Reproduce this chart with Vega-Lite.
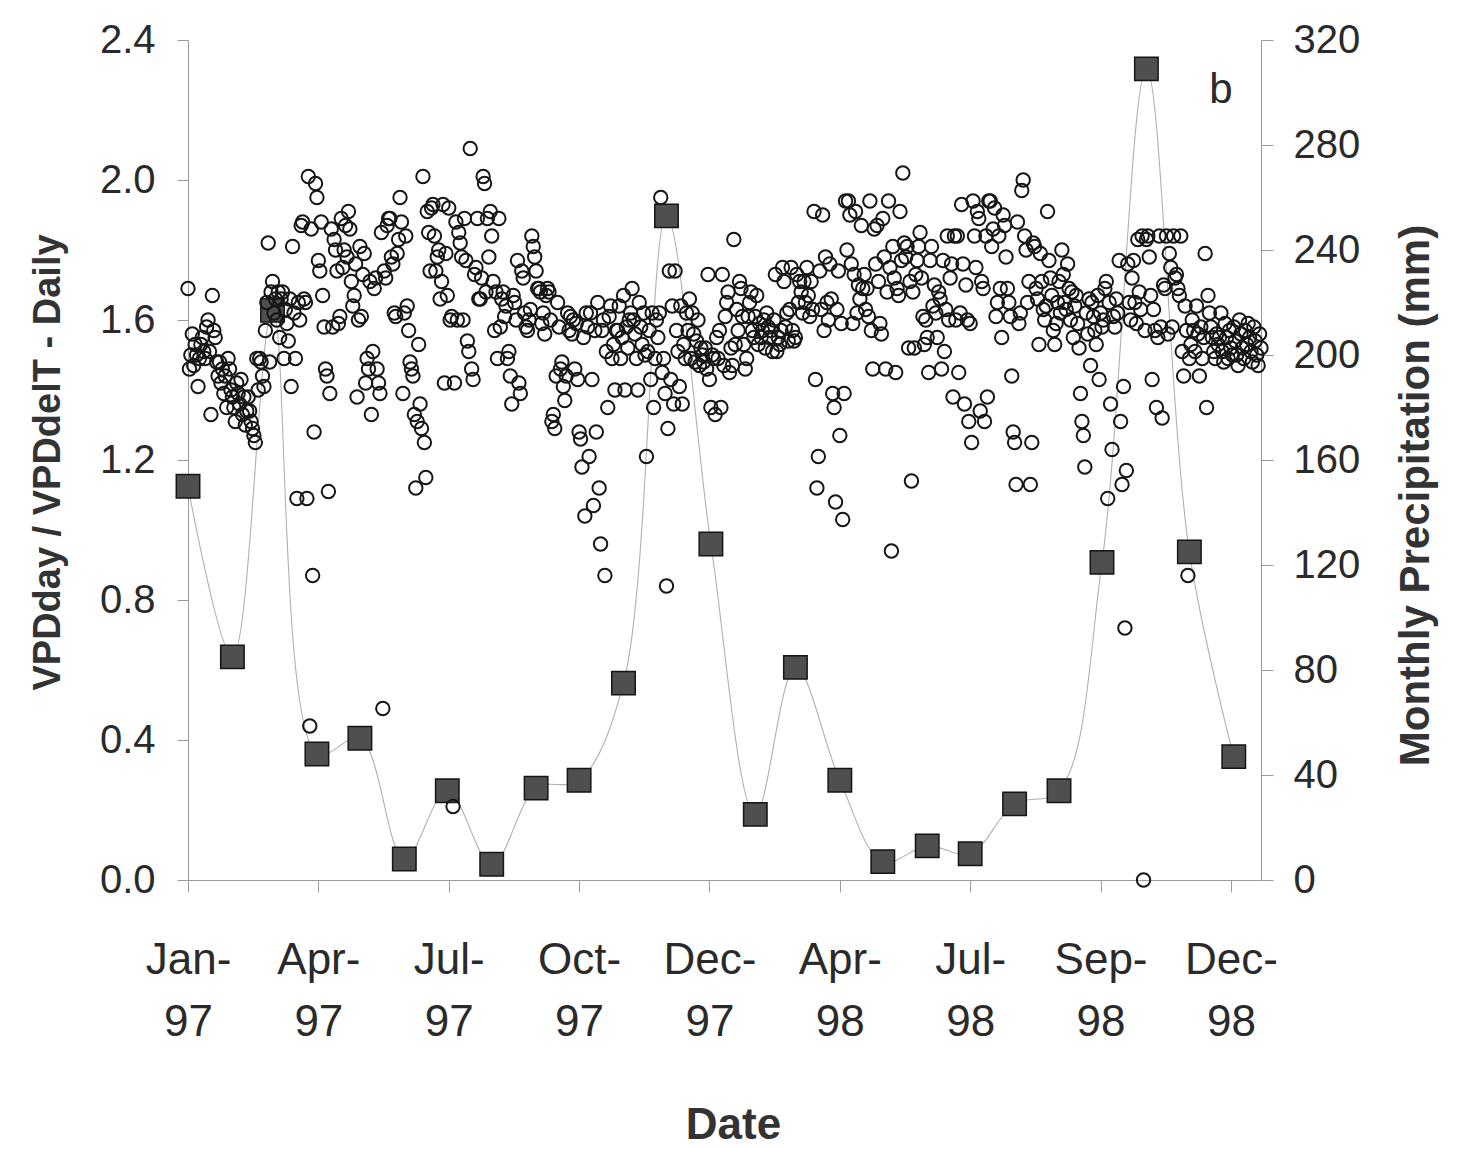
{
"$schema":"https://vega.github.io/schema/vega-lite/v6.json",
"width":1073,"height":840,
"autosize":{"type":"none"},
"padding":{"left":188,"top":40,"right":208,"bottom":269},
"background":"white",
"config":{"view":{"stroke":null},"font":"Liberation Sans","axis":{"labelFont":"Liberation Sans","titleFont":"Liberation Sans","grid":false,"domainColor":"#9a9a9a","tickColor":"#9a9a9a","labelColor":"#2a2a2a","titleColor":"#333333","domainWidth":1,"tickWidth":1}},
"datasets":{
"monthly":[
{"month":"1997-01-01","precip_mm":150},{"month":"1997-02-01","precip_mm":85},{"month":"1997-03-01","precip_mm":217},{"month":"1997-04-01","precip_mm":48},{"month":"1997-05-01","precip_mm":54},{"month":"1997-06-01","precip_mm":8},{"month":"1997-07-01","precip_mm":34},{"month":"1997-08-01","precip_mm":6},{"month":"1997-09-01","precip_mm":35},{"month":"1997-10-01","precip_mm":38},{"month":"1997-11-01","precip_mm":75},{"month":"1997-12-01","precip_mm":253},
{"month":"1998-01-01","precip_mm":128},{"month":"1998-02-01","precip_mm":25},{"month":"1998-03-01","precip_mm":81},{"month":"1998-04-01","precip_mm":38},{"month":"1998-05-01","precip_mm":7},{"month":"1998-06-01","precip_mm":13},{"month":"1998-07-01","precip_mm":10},{"month":"1998-08-01","precip_mm":29},{"month":"1998-09-01","precip_mm":34},{"month":"1998-10-01","precip_mm":121},{"month":"1998-11-01","precip_mm":309},{"month":"1998-12-01","precip_mm":125},{"month":"1999-01-01","precip_mm":47}
],
"daily":[
{"date":"1997-01-01","ratio":1.69},{"date":"1997-01-02","ratio":1.46},{"date":"1997-01-03","ratio":1.50},{"date":"1997-01-04","ratio":1.56},{"date":"1997-01-05","ratio":1.47},{"date":"1997-01-06","ratio":1.53},{"date":"1997-01-07","ratio":1.50},{"date":"1997-01-08","ratio":1.41},{"date":"1997-01-09","ratio":1.49},{"date":"1997-01-10","ratio":1.53},
{"date":"1997-01-11","ratio":1.55},{"date":"1997-01-12","ratio":1.51},{"date":"1997-01-13","ratio":1.49},{"date":"1997-01-14","ratio":1.58},{"date":"1997-01-15","ratio":1.60},{"date":"1997-01-16","ratio":1.51},{"date":"1997-01-17","ratio":1.33},{"date":"1997-01-18","ratio":1.67},{"date":"1997-01-19","ratio":1.57},{"date":"1997-01-20","ratio":1.55},
{"date":"1997-01-21","ratio":1.48},{"date":"1997-01-22","ratio":1.44},{"date":"1997-01-23","ratio":1.48},{"date":"1997-01-24","ratio":1.42},{"date":"1997-01-25","ratio":1.46},{"date":"1997-01-26","ratio":1.39},{"date":"1997-01-27","ratio":1.44},{"date":"1997-01-28","ratio":1.35},{"date":"1997-01-29","ratio":1.49},{"date":"1997-01-30","ratio":1.46},{"date":"1997-01-31","ratio":1.40},
{"date":"1997-02-01","ratio":1.38},{"date":"1997-02-02","ratio":1.35},{"date":"1997-02-03","ratio":1.31},{"date":"1997-02-04","ratio":1.42},{"date":"1997-02-05","ratio":1.39},{"date":"1997-02-06","ratio":1.36},{"date":"1997-02-07","ratio":1.43},{"date":"1997-02-08","ratio":1.33},{"date":"1997-02-09","ratio":1.38},{"date":"1997-02-10","ratio":1.30},
{"date":"1997-02-11","ratio":1.34},{"date":"1997-02-12","ratio":1.38},{"date":"1997-02-13","ratio":1.34},{"date":"1997-02-14","ratio":1.31},{"date":"1997-02-15","ratio":1.29},{"date":"1997-02-16","ratio":1.27},{"date":"1997-02-17","ratio":1.25},{"date":"1997-02-18","ratio":1.49},{"date":"1997-02-19","ratio":1.40},{"date":"1997-02-20","ratio":1.49},
{"date":"1997-02-21","ratio":1.48},{"date":"1997-02-22","ratio":1.44},{"date":"1997-02-23","ratio":1.41},{"date":"1997-02-24","ratio":1.57},{"date":"1997-02-25","ratio":1.65},{"date":"1997-02-26","ratio":1.82},{"date":"1997-02-27","ratio":1.48},{"date":"1997-02-28","ratio":1.68},
{"date":"1997-03-01","ratio":1.71},{"date":"1997-03-02","ratio":1.62},{"date":"1997-03-03","ratio":1.66},{"date":"1997-03-04","ratio":1.60},{"date":"1997-03-05","ratio":1.68},{"date":"1997-03-06","ratio":1.55},{"date":"1997-03-07","ratio":1.66},{"date":"1997-03-08","ratio":1.68},{"date":"1997-03-09","ratio":1.49},{"date":"1997-03-10","ratio":1.63},
{"date":"1997-03-11","ratio":1.59},{"date":"1997-03-12","ratio":1.54},{"date":"1997-03-13","ratio":1.66},{"date":"1997-03-14","ratio":1.41},{"date":"1997-03-15","ratio":1.81},{"date":"1997-03-16","ratio":1.62},{"date":"1997-03-17","ratio":1.49},{"date":"1997-03-18","ratio":1.09},{"date":"1997-03-19","ratio":1.65},{"date":"1997-03-20","ratio":1.60},
{"date":"1997-03-21","ratio":1.87},{"date":"1997-03-22","ratio":1.88},{"date":"1997-03-23","ratio":1.66},{"date":"1997-03-24","ratio":1.65},{"date":"1997-03-25","ratio":1.09},{"date":"1997-03-26","ratio":2.01},{"date":"1997-03-27","ratio":0.44},{"date":"1997-03-28","ratio":1.86},{"date":"1997-03-29","ratio":0.87},{"date":"1997-03-30","ratio":1.28},{"date":"1997-03-31","ratio":1.99},
{"date":"1997-04-01","ratio":1.95},{"date":"1997-04-02","ratio":1.77},{"date":"1997-04-03","ratio":1.74},{"date":"1997-04-04","ratio":1.88},{"date":"1997-04-05","ratio":1.67},{"date":"1997-04-06","ratio":1.58},{"date":"1997-04-07","ratio":1.46},{"date":"1997-04-08","ratio":1.44},{"date":"1997-04-09","ratio":1.11},{"date":"1997-04-10","ratio":1.39},
{"date":"1997-04-11","ratio":1.86},{"date":"1997-04-12","ratio":1.58},{"date":"1997-04-13","ratio":1.83},{"date":"1997-04-14","ratio":1.80},{"date":"1997-04-15","ratio":1.74},{"date":"1997-04-16","ratio":1.59},{"date":"1997-04-17","ratio":1.61},{"date":"1997-04-18","ratio":1.89},{"date":"1997-04-19","ratio":1.75},{"date":"1997-04-20","ratio":1.80},
{"date":"1997-04-21","ratio":1.87},{"date":"1997-04-22","ratio":1.78},{"date":"1997-04-23","ratio":1.91},{"date":"1997-04-24","ratio":1.86},{"date":"1997-04-25","ratio":1.71},{"date":"1997-04-26","ratio":1.64},{"date":"1997-04-27","ratio":1.67},{"date":"1997-04-28","ratio":1.76},{"date":"1997-04-29","ratio":1.38},{"date":"1997-04-30","ratio":1.60},
{"date":"1997-05-01","ratio":1.81},{"date":"1997-05-02","ratio":1.61},{"date":"1997-05-03","ratio":1.73},{"date":"1997-05-04","ratio":1.79},{"date":"1997-05-05","ratio":1.42},{"date":"1997-05-06","ratio":1.49},{"date":"1997-05-07","ratio":1.46},{"date":"1997-05-08","ratio":1.71},{"date":"1997-05-09","ratio":1.33},{"date":"1997-05-10","ratio":1.51},
{"date":"1997-05-11","ratio":1.69},{"date":"1997-05-12","ratio":1.72},{"date":"1997-05-13","ratio":1.46},{"date":"1997-05-14","ratio":1.42},{"date":"1997-05-15","ratio":1.39},{"date":"1997-05-16","ratio":1.85},{"date":"1997-05-17","ratio":0.49},{"date":"1997-05-18","ratio":1.74},{"date":"1997-05-19","ratio":1.72},{"date":"1997-05-20","ratio":1.87},
{"date":"1997-05-21","ratio":1.89},{"date":"1997-05-22","ratio":1.89},{"date":"1997-05-23","ratio":1.78},{"date":"1997-05-24","ratio":1.76},{"date":"1997-05-25","ratio":1.62},{"date":"1997-05-26","ratio":1.61},{"date":"1997-05-27","ratio":1.79},{"date":"1997-05-28","ratio":1.83},{"date":"1997-05-29","ratio":1.95},{"date":"1997-05-30","ratio":1.88},{"date":"1997-05-31","ratio":1.39},
{"date":"1997-06-01","ratio":1.62},{"date":"1997-06-02","ratio":1.84},{"date":"1997-06-03","ratio":1.64},{"date":"1997-06-04","ratio":1.57},{"date":"1997-06-05","ratio":1.48},{"date":"1997-06-06","ratio":1.46},{"date":"1997-06-07","ratio":1.44},{"date":"1997-06-08","ratio":1.33},{"date":"1997-06-09","ratio":1.12},{"date":"1997-06-10","ratio":1.31},
{"date":"1997-06-11","ratio":1.53},{"date":"1997-06-12","ratio":1.36},{"date":"1997-06-13","ratio":1.29},{"date":"1997-06-14","ratio":2.01},{"date":"1997-06-15","ratio":1.25},{"date":"1997-06-16","ratio":1.15},{"date":"1997-06-17","ratio":1.91},{"date":"1997-06-18","ratio":1.85},{"date":"1997-06-19","ratio":1.74},{"date":"1997-06-20","ratio":1.92},
{"date":"1997-06-21","ratio":1.93},{"date":"1997-06-22","ratio":1.84},{"date":"1997-06-23","ratio":1.74},{"date":"1997-06-24","ratio":1.78},{"date":"1997-06-25","ratio":1.80},{"date":"1997-06-26","ratio":1.66},{"date":"1997-06-27","ratio":1.71},{"date":"1997-06-28","ratio":1.93},{"date":"1997-06-29","ratio":1.42},{"date":"1997-06-30","ratio":1.79},
{"date":"1997-07-01","ratio":1.67},{"date":"1997-07-02","ratio":1.92},{"date":"1997-07-03","ratio":1.60},{"date":"1997-07-04","ratio":1.61},{"date":"1997-07-05","ratio":0.21},{"date":"1997-07-06","ratio":1.42},{"date":"1997-07-07","ratio":1.88},{"date":"1997-07-08","ratio":1.60},{"date":"1997-07-09","ratio":1.85},{"date":"1997-07-10","ratio":1.82},
{"date":"1997-07-11","ratio":1.78},{"date":"1997-07-12","ratio":1.60},{"date":"1997-07-13","ratio":1.89},{"date":"1997-07-14","ratio":1.77},{"date":"1997-07-15","ratio":1.54},{"date":"1997-07-16","ratio":1.51},{"date":"1997-07-17","ratio":2.09},{"date":"1997-07-18","ratio":1.46},{"date":"1997-07-19","ratio":1.43},{"date":"1997-07-20","ratio":1.73},
{"date":"1997-07-21","ratio":1.75},{"date":"1997-07-22","ratio":1.89},{"date":"1997-07-23","ratio":1.66},{"date":"1997-07-24","ratio":1.66},{"date":"1997-07-25","ratio":1.72},{"date":"1997-07-26","ratio":2.01},{"date":"1997-07-27","ratio":1.99},{"date":"1997-07-28","ratio":1.68},{"date":"1997-07-29","ratio":1.89},{"date":"1997-07-30","ratio":1.78},{"date":"1997-07-31","ratio":1.91},
{"date":"1997-08-01","ratio":1.84},{"date":"1997-08-02","ratio":1.71},{"date":"1997-08-03","ratio":1.57},{"date":"1997-08-04","ratio":1.68},{"date":"1997-08-05","ratio":1.49},{"date":"1997-08-06","ratio":1.89},{"date":"1997-08-07","ratio":1.58},{"date":"1997-08-08","ratio":1.66},{"date":"1997-08-09","ratio":1.68},{"date":"1997-08-10","ratio":1.61},
{"date":"1997-08-11","ratio":1.64},{"date":"1997-08-12","ratio":1.49},{"date":"1997-08-13","ratio":1.51},{"date":"1997-08-14","ratio":1.44},{"date":"1997-08-15","ratio":1.36},{"date":"1997-08-16","ratio":1.67},{"date":"1997-08-17","ratio":1.65},{"date":"1997-08-18","ratio":1.60},{"date":"1997-08-19","ratio":1.77},{"date":"1997-08-20","ratio":1.42},
{"date":"1997-08-21","ratio":1.39},{"date":"1997-08-22","ratio":1.74},{"date":"1997-08-23","ratio":1.72},{"date":"1997-08-24","ratio":1.62},{"date":"1997-08-25","ratio":1.58},{"date":"1997-08-26","ratio":1.57},{"date":"1997-08-27","ratio":1.60},{"date":"1997-08-28","ratio":1.63},{"date":"1997-08-29","ratio":1.84},{"date":"1997-08-30","ratio":1.81},{"date":"1997-08-31","ratio":1.78},
{"date":"1997-09-01","ratio":1.74},{"date":"1997-09-02","ratio":1.69},{"date":"1997-09-03","ratio":1.69},{"date":"1997-09-04","ratio":1.68},{"date":"1997-09-05","ratio":1.59},{"date":"1997-09-06","ratio":1.62},{"date":"1997-09-07","ratio":1.56},{"date":"1997-09-08","ratio":1.67},{"date":"1997-09-09","ratio":1.69},{"date":"1997-09-10","ratio":1.68},
{"date":"1997-09-11","ratio":1.60},{"date":"1997-09-12","ratio":1.31},{"date":"1997-09-13","ratio":1.33},{"date":"1997-09-14","ratio":1.29},{"date":"1997-09-15","ratio":1.44},{"date":"1997-09-16","ratio":1.65},{"date":"1997-09-17","ratio":1.58},{"date":"1997-09-18","ratio":1.46},{"date":"1997-09-19","ratio":1.48},{"date":"1997-09-20","ratio":1.41},
{"date":"1997-09-21","ratio":1.37},{"date":"1997-09-22","ratio":1.44},{"date":"1997-09-23","ratio":1.62},{"date":"1997-09-24","ratio":1.57},{"date":"1997-09-25","ratio":1.61},{"date":"1997-09-26","ratio":1.56},{"date":"1997-09-27","ratio":1.60},{"date":"1997-09-28","ratio":1.46},{"date":"1997-09-29","ratio":1.59},{"date":"1997-09-30","ratio":1.43},
{"date":"1997-10-01","ratio":1.28},{"date":"1997-10-02","ratio":1.26},{"date":"1997-10-03","ratio":1.18},{"date":"1997-10-04","ratio":1.55},{"date":"1997-10-05","ratio":1.04},{"date":"1997-10-06","ratio":1.62},{"date":"1997-10-07","ratio":1.58},{"date":"1997-10-08","ratio":1.21},{"date":"1997-10-09","ratio":1.62},{"date":"1997-10-10","ratio":1.43},
{"date":"1997-10-11","ratio":1.07},{"date":"1997-10-12","ratio":1.57},{"date":"1997-10-13","ratio":1.28},{"date":"1997-10-14","ratio":1.65},{"date":"1997-10-15","ratio":1.12},{"date":"1997-10-16","ratio":0.96},{"date":"1997-10-17","ratio":1.57},{"date":"1997-10-18","ratio":1.60},{"date":"1997-10-19","ratio":0.87},{"date":"1997-10-20","ratio":1.51},
{"date":"1997-10-21","ratio":1.35},{"date":"1997-10-22","ratio":1.61},{"date":"1997-10-23","ratio":1.64},{"date":"1997-10-24","ratio":1.49},{"date":"1997-10-25","ratio":1.53},{"date":"1997-10-26","ratio":1.40},{"date":"1997-10-27","ratio":1.57},{"date":"1997-10-28","ratio":1.57},{"date":"1997-10-29","ratio":1.64},{"date":"1997-10-30","ratio":1.49},{"date":"1997-10-31","ratio":1.55},
{"date":"1997-11-01","ratio":1.67},{"date":"1997-11-02","ratio":1.40},{"date":"1997-11-03","ratio":1.58},{"date":"1997-11-04","ratio":1.52},{"date":"1997-11-05","ratio":1.60},{"date":"1997-11-06","ratio":1.62},{"date":"1997-11-07","ratio":1.69},{"date":"1997-11-08","ratio":1.60},{"date":"1997-11-09","ratio":1.56},{"date":"1997-11-10","ratio":1.49},
{"date":"1997-11-11","ratio":1.40},{"date":"1997-11-12","ratio":1.65},{"date":"1997-11-13","ratio":1.58},{"date":"1997-11-14","ratio":1.53},{"date":"1997-11-15","ratio":1.62},{"date":"1997-11-16","ratio":1.50},{"date":"1997-11-17","ratio":1.21},{"date":"1997-11-18","ratio":1.51},{"date":"1997-11-19","ratio":1.57},{"date":"1997-11-20","ratio":1.43},
{"date":"1997-11-21","ratio":1.62},{"date":"1997-11-22","ratio":1.35},{"date":"1997-11-23","ratio":1.49},{"date":"1997-11-24","ratio":1.60},{"date":"1997-11-25","ratio":1.55},{"date":"1997-11-26","ratio":1.62},{"date":"1997-11-27","ratio":1.95},{"date":"1997-11-28","ratio":1.45},{"date":"1997-11-29","ratio":1.49},{"date":"1997-11-30","ratio":1.39},
{"date":"1997-12-01","ratio":0.84},{"date":"1997-12-02","ratio":1.29},{"date":"1997-12-03","ratio":1.74},{"date":"1997-12-04","ratio":1.43},{"date":"1997-12-05","ratio":1.64},{"date":"1997-12-06","ratio":1.36},{"date":"1997-12-07","ratio":1.74},{"date":"1997-12-08","ratio":1.57},{"date":"1997-12-09","ratio":1.51},{"date":"1997-12-10","ratio":1.41},
{"date":"1997-12-11","ratio":1.64},{"date":"1997-12-12","ratio":1.36},{"date":"1997-12-13","ratio":1.53},{"date":"1997-12-14","ratio":1.49},{"date":"1997-12-15","ratio":1.62},{"date":"1997-12-16","ratio":1.57},{"date":"1997-12-17","ratio":1.66},{"date":"1997-12-18","ratio":1.49},{"date":"1997-12-19","ratio":1.62},{"date":"1997-12-20","ratio":1.56},
{"date":"1997-12-21","ratio":1.48},{"date":"1997-12-22","ratio":1.54},{"date":"1997-12-23","ratio":1.60},{"date":"1997-12-24","ratio":1.47},{"date":"1997-12-25","ratio":1.52},{"date":"1997-12-26","ratio":1.50},{"date":"1997-12-27","ratio":1.48},{"date":"1997-12-28","ratio":1.52},{"date":"1997-12-29","ratio":1.46},{"date":"1997-12-30","ratio":1.73},{"date":"1997-12-31","ratio":1.43},
{"date":"1998-01-01","ratio":1.35},{"date":"1998-01-02","ratio":1.50},{"date":"1998-01-03","ratio":1.49},{"date":"1998-01-04","ratio":1.33},{"date":"1998-01-05","ratio":1.55},{"date":"1998-01-06","ratio":1.49},{"date":"1998-01-07","ratio":1.57},{"date":"1998-01-08","ratio":1.35},{"date":"1998-01-09","ratio":1.73},{"date":"1998-01-10","ratio":1.47},
{"date":"1998-01-11","ratio":1.61},{"date":"1998-01-12","ratio":1.65},{"date":"1998-01-13","ratio":1.68},{"date":"1998-01-14","ratio":1.45},{"date":"1998-01-15","ratio":1.52},{"date":"1998-01-16","ratio":1.47},{"date":"1998-01-17","ratio":1.83},{"date":"1998-01-18","ratio":1.53},{"date":"1998-01-19","ratio":1.63},{"date":"1998-01-20","ratio":1.57},
{"date":"1998-01-21","ratio":1.71},{"date":"1998-01-22","ratio":1.69},{"date":"1998-01-23","ratio":1.61},{"date":"1998-01-24","ratio":1.53},{"date":"1998-01-25","ratio":1.46},{"date":"1998-01-26","ratio":1.49},{"date":"1998-01-27","ratio":1.61},{"date":"1998-01-28","ratio":1.65},{"date":"1998-01-29","ratio":1.68},{"date":"1998-01-30","ratio":1.57},{"date":"1998-01-31","ratio":1.55},
{"date":"1998-02-01","ratio":1.61},{"date":"1998-02-02","ratio":1.67},{"date":"1998-02-03","ratio":1.53},{"date":"1998-02-04","ratio":1.59},{"date":"1998-02-05","ratio":1.55},{"date":"1998-02-06","ratio":1.57},{"date":"1998-02-07","ratio":1.60},{"date":"1998-02-08","ratio":1.52},{"date":"1998-02-09","ratio":1.62},{"date":"1998-02-10","ratio":1.58},
{"date":"1998-02-11","ratio":1.55},{"date":"1998-02-12","ratio":1.57},{"date":"1998-02-13","ratio":1.51},{"date":"1998-02-14","ratio":1.60},{"date":"1998-02-15","ratio":1.73},{"date":"1998-02-16","ratio":1.51},{"date":"1998-02-17","ratio":1.55},{"date":"1998-02-18","ratio":1.53},{"date":"1998-02-19","ratio":1.57},{"date":"1998-02-20","ratio":1.75},
{"date":"1998-02-21","ratio":1.71},{"date":"1998-02-22","ratio":1.58},{"date":"1998-02-23","ratio":1.62},{"date":"1998-02-24","ratio":1.54},{"date":"1998-02-25","ratio":1.63},{"date":"1998-02-26","ratio":1.75},{"date":"1998-02-27","ratio":1.57},{"date":"1998-02-28","ratio":1.54},
{"date":"1998-03-01","ratio":1.55},{"date":"1998-03-02","ratio":1.73},{"date":"1998-03-03","ratio":1.65},{"date":"1998-03-04","ratio":1.71},{"date":"1998-03-05","ratio":1.68},{"date":"1998-03-06","ratio":1.62},{"date":"1998-03-07","ratio":1.71},{"date":"1998-03-08","ratio":1.65},{"date":"1998-03-09","ratio":1.75},{"date":"1998-03-10","ratio":1.67},
{"date":"1998-03-11","ratio":1.61},{"date":"1998-03-12","ratio":1.71},{"date":"1998-03-13","ratio":1.63},{"date":"1998-03-14","ratio":1.91},{"date":"1998-03-15","ratio":1.43},{"date":"1998-03-16","ratio":1.12},{"date":"1998-03-17","ratio":1.21},{"date":"1998-03-18","ratio":1.74},{"date":"1998-03-19","ratio":1.63},{"date":"1998-03-20","ratio":1.90},
{"date":"1998-03-21","ratio":1.57},{"date":"1998-03-22","ratio":1.78},{"date":"1998-03-23","ratio":1.65},{"date":"1998-03-24","ratio":1.60},{"date":"1998-03-25","ratio":1.76},{"date":"1998-03-26","ratio":1.66},{"date":"1998-03-27","ratio":1.39},{"date":"1998-03-28","ratio":1.35},{"date":"1998-03-29","ratio":1.08},{"date":"1998-03-30","ratio":1.63},{"date":"1998-03-31","ratio":1.74},
{"date":"1998-04-01","ratio":1.27},{"date":"1998-04-02","ratio":1.59},{"date":"1998-04-03","ratio":1.03},{"date":"1998-04-04","ratio":1.39},{"date":"1998-04-05","ratio":1.94},{"date":"1998-04-06","ratio":1.80},{"date":"1998-04-07","ratio":1.94},{"date":"1998-04-08","ratio":1.90},{"date":"1998-04-09","ratio":1.76},{"date":"1998-04-10","ratio":1.59},
{"date":"1998-04-11","ratio":1.73},{"date":"1998-04-12","ratio":1.91},{"date":"1998-04-13","ratio":1.62},{"date":"1998-04-14","ratio":1.70},{"date":"1998-04-15","ratio":1.66},{"date":"1998-04-16","ratio":1.87},{"date":"1998-04-17","ratio":1.69},{"date":"1998-04-18","ratio":1.73},{"date":"1998-04-19","ratio":1.63},{"date":"1998-04-20","ratio":1.69},
{"date":"1998-04-21","ratio":1.61},{"date":"1998-04-22","ratio":1.94},{"date":"1998-04-23","ratio":1.57},{"date":"1998-04-24","ratio":1.46},{"date":"1998-04-25","ratio":1.86},{"date":"1998-04-26","ratio":1.76},{"date":"1998-04-27","ratio":1.87},{"date":"1998-04-28","ratio":1.71},{"date":"1998-04-29","ratio":1.59},{"date":"1998-04-30","ratio":1.56},
{"date":"1998-05-01","ratio":1.89},{"date":"1998-05-02","ratio":1.78},{"date":"1998-05-03","ratio":1.46},{"date":"1998-05-04","ratio":1.68},{"date":"1998-05-05","ratio":1.94},{"date":"1998-05-06","ratio":1.75},{"date":"1998-05-07","ratio":0.94},{"date":"1998-05-08","ratio":1.81},{"date":"1998-05-09","ratio":1.72},{"date":"1998-05-10","ratio":1.45},
{"date":"1998-05-11","ratio":1.69},{"date":"1998-05-12","ratio":1.67},{"date":"1998-05-13","ratio":1.91},{"date":"1998-05-14","ratio":1.77},{"date":"1998-05-15","ratio":2.02},{"date":"1998-05-16","ratio":1.82},{"date":"1998-05-17","ratio":1.78},{"date":"1998-05-18","ratio":1.81},{"date":"1998-05-19","ratio":1.52},{"date":"1998-05-20","ratio":1.71},
{"date":"1998-05-21","ratio":1.14},{"date":"1998-05-22","ratio":1.68},{"date":"1998-05-23","ratio":1.52},{"date":"1998-05-24","ratio":1.73},{"date":"1998-05-25","ratio":1.77},{"date":"1998-05-26","ratio":1.81},{"date":"1998-05-27","ratio":1.85},{"date":"1998-05-28","ratio":1.72},{"date":"1998-05-29","ratio":1.61},{"date":"1998-05-30","ratio":1.53},{"date":"1998-05-31","ratio":1.60},
{"date":"1998-06-01","ratio":1.55},{"date":"1998-06-02","ratio":1.45},{"date":"1998-06-03","ratio":1.77},{"date":"1998-06-04","ratio":1.81},{"date":"1998-06-05","ratio":1.64},{"date":"1998-06-06","ratio":1.70},{"date":"1998-06-07","ratio":1.62},{"date":"1998-06-08","ratio":1.55},{"date":"1998-06-09","ratio":1.68},{"date":"1998-06-10","ratio":1.66},
{"date":"1998-06-11","ratio":1.46},{"date":"1998-06-12","ratio":1.77},{"date":"1998-06-13","ratio":1.51},{"date":"1998-06-14","ratio":1.63},{"date":"1998-06-15","ratio":1.84},{"date":"1998-06-16","ratio":1.60},{"date":"1998-06-17","ratio":1.72},{"date":"1998-06-18","ratio":1.76},{"date":"1998-06-19","ratio":1.38},{"date":"1998-06-20","ratio":1.84},
{"date":"1998-06-21","ratio":1.60},{"date":"1998-06-22","ratio":1.84},{"date":"1998-06-23","ratio":1.45},{"date":"1998-06-24","ratio":1.62},{"date":"1998-06-25","ratio":1.93},{"date":"1998-06-26","ratio":1.76},{"date":"1998-06-27","ratio":1.36},{"date":"1998-06-28","ratio":1.70},{"date":"1998-06-29","ratio":1.60},{"date":"1998-06-30","ratio":1.31},
{"date":"1998-07-01","ratio":1.59},{"date":"1998-07-02","ratio":1.25},{"date":"1998-07-03","ratio":1.94},{"date":"1998-07-04","ratio":1.84},{"date":"1998-07-05","ratio":1.75},{"date":"1998-07-06","ratio":1.91},{"date":"1998-07-07","ratio":1.89},{"date":"1998-07-08","ratio":1.34},{"date":"1998-07-09","ratio":1.71},{"date":"1998-07-10","ratio":1.69},
{"date":"1998-07-11","ratio":1.31},{"date":"1998-07-12","ratio":1.84},{"date":"1998-07-13","ratio":1.38},{"date":"1998-07-14","ratio":1.94},{"date":"1998-07-15","ratio":1.94},{"date":"1998-07-16","ratio":1.81},{"date":"1998-07-17","ratio":1.86},{"date":"1998-07-18","ratio":1.92},{"date":"1998-07-19","ratio":1.61},{"date":"1998-07-20","ratio":1.65},
{"date":"1998-07-21","ratio":1.84},{"date":"1998-07-22","ratio":1.69},{"date":"1998-07-23","ratio":1.55},{"date":"1998-07-24","ratio":1.90},{"date":"1998-07-25","ratio":1.87},{"date":"1998-07-26","ratio":1.78},{"date":"1998-07-27","ratio":1.69},{"date":"1998-07-28","ratio":1.65},{"date":"1998-07-29","ratio":1.61},{"date":"1998-07-30","ratio":1.44},{"date":"1998-07-31","ratio":1.28},
{"date":"1998-08-01","ratio":1.25},{"date":"1998-08-02","ratio":1.13},{"date":"1998-08-03","ratio":1.88},{"date":"1998-08-04","ratio":1.59},{"date":"1998-08-05","ratio":1.62},{"date":"1998-08-06","ratio":1.97},{"date":"1998-08-07","ratio":2.00},{"date":"1998-08-08","ratio":1.84},{"date":"1998-08-09","ratio":1.80},{"date":"1998-08-10","ratio":1.65},
{"date":"1998-08-11","ratio":1.71},{"date":"1998-08-12","ratio":1.13},{"date":"1998-08-13","ratio":1.25},{"date":"1998-08-14","ratio":1.82},{"date":"1998-08-15","ratio":1.81},{"date":"1998-08-16","ratio":1.69},{"date":"1998-08-17","ratio":1.66},{"date":"1998-08-18","ratio":1.53},{"date":"1998-08-19","ratio":1.79},{"date":"1998-08-20","ratio":1.71},
{"date":"1998-08-21","ratio":1.63},{"date":"1998-08-22","ratio":1.60},{"date":"1998-08-23","ratio":1.64},{"date":"1998-08-24","ratio":1.91},{"date":"1998-08-25","ratio":1.77},{"date":"1998-08-26","ratio":1.72},{"date":"1998-08-27","ratio":1.67},{"date":"1998-08-28","ratio":1.57},{"date":"1998-08-29","ratio":1.53},{"date":"1998-08-30","ratio":1.59},{"date":"1998-08-31","ratio":1.65},
{"date":"1998-09-01","ratio":1.71},{"date":"1998-09-02","ratio":1.62},{"date":"1998-09-03","ratio":1.80},{"date":"1998-09-04","ratio":1.73},{"date":"1998-09-05","ratio":1.65},{"date":"1998-09-06","ratio":1.63},{"date":"1998-09-07","ratio":1.76},{"date":"1998-09-08","ratio":1.69},{"date":"1998-09-09","ratio":1.60},{"date":"1998-09-10","ratio":1.68},
{"date":"1998-09-11","ratio":1.55},{"date":"1998-09-12","ratio":1.64},{"date":"1998-09-13","ratio":1.67},{"date":"1998-09-14","ratio":1.59},{"date":"1998-09-15","ratio":1.52},{"date":"1998-09-16","ratio":1.39},{"date":"1998-09-17","ratio":1.31},{"date":"1998-09-18","ratio":1.27},{"date":"1998-09-19","ratio":1.18},{"date":"1998-09-20","ratio":1.62},
{"date":"1998-09-21","ratio":1.56},{"date":"1998-09-22","ratio":1.66},{"date":"1998-09-23","ratio":1.47},{"date":"1998-09-24","ratio":1.65},{"date":"1998-09-25","ratio":1.61},{"date":"1998-09-26","ratio":1.57},{"date":"1998-09-27","ratio":1.53},{"date":"1998-09-28","ratio":1.67},{"date":"1998-09-29","ratio":1.43},{"date":"1998-09-30","ratio":1.62},
{"date":"1998-10-01","ratio":1.58},{"date":"1998-10-02","ratio":1.60},{"date":"1998-10-03","ratio":1.69},{"date":"1998-10-04","ratio":1.71},{"date":"1998-10-05","ratio":1.09},{"date":"1998-10-06","ratio":1.65},{"date":"1998-10-07","ratio":1.36},{"date":"1998-10-08","ratio":1.23},{"date":"1998-10-09","ratio":1.61},{"date":"1998-10-10","ratio":1.58},
{"date":"1998-10-11","ratio":1.66},{"date":"1998-10-12","ratio":1.62},{"date":"1998-10-13","ratio":1.77},{"date":"1998-10-14","ratio":1.31},{"date":"1998-10-15","ratio":1.13},{"date":"1998-10-16","ratio":1.41},{"date":"1998-10-17","ratio":0.72},{"date":"1998-10-18","ratio":1.17},{"date":"1998-10-19","ratio":1.76},{"date":"1998-10-20","ratio":1.65},
{"date":"1998-10-21","ratio":1.60},{"date":"1998-10-22","ratio":1.72},{"date":"1998-10-23","ratio":1.77},{"date":"1998-10-24","ratio":1.65},{"date":"1998-10-25","ratio":1.59},{"date":"1998-10-26","ratio":1.83},{"date":"1998-10-27","ratio":1.68},{"date":"1998-10-28","ratio":1.63},{"date":"1998-10-29","ratio":1.84},{"date":"1998-10-30","ratio":0.00},{"date":"1998-10-31","ratio":1.57},
{"date":"1998-11-01","ratio":1.83},{"date":"1998-11-02","ratio":1.84},{"date":"1998-11-03","ratio":1.78},{"date":"1998-11-04","ratio":1.67},{"date":"1998-11-05","ratio":1.43},{"date":"1998-11-06","ratio":1.63},{"date":"1998-11-07","ratio":1.57},{"date":"1998-11-08","ratio":1.35},{"date":"1998-11-09","ratio":1.55},{"date":"1998-11-10","ratio":1.84},
{"date":"1998-11-11","ratio":1.58},{"date":"1998-11-12","ratio":1.32},{"date":"1998-11-13","ratio":1.70},{"date":"1998-11-14","ratio":1.69},{"date":"1998-11-15","ratio":1.84},{"date":"1998-11-16","ratio":1.56},{"date":"1998-11-17","ratio":1.79},{"date":"1998-11-18","ratio":1.75},{"date":"1998-11-19","ratio":1.58},{"date":"1998-11-20","ratio":1.84},
{"date":"1998-11-21","ratio":1.72},{"date":"1998-11-22","ratio":1.73},{"date":"1998-11-23","ratio":1.69},{"date":"1998-11-24","ratio":1.67},{"date":"1998-11-25","ratio":1.84},{"date":"1998-11-26","ratio":1.51},{"date":"1998-11-27","ratio":1.44},{"date":"1998-11-28","ratio":1.64},{"date":"1998-11-29","ratio":1.57},{"date":"1998-11-30","ratio":0.87},
{"date":"1998-12-01","ratio":1.49},{"date":"1998-12-02","ratio":1.53},{"date":"1998-12-03","ratio":1.60},{"date":"1998-12-04","ratio":1.57},{"date":"1998-12-05","ratio":1.51},{"date":"1998-12-06","ratio":1.64},{"date":"1998-12-07","ratio":1.56},{"date":"1998-12-08","ratio":1.44},{"date":"1998-12-09","ratio":1.58},{"date":"1998-12-10","ratio":1.49},
{"date":"1998-12-11","ratio":1.55},{"date":"1998-12-12","ratio":1.79},{"date":"1998-12-13","ratio":1.35},{"date":"1998-12-14","ratio":1.67},{"date":"1998-12-15","ratio":1.62},{"date":"1998-12-16","ratio":1.58},{"date":"1998-12-17","ratio":1.55},{"date":"1998-12-18","ratio":1.51},{"date":"1998-12-19","ratio":1.49},{"date":"1998-12-20","ratio":1.56},
{"date":"1998-12-21","ratio":1.53},{"date":"1998-12-22","ratio":1.55},{"date":"1998-12-23","ratio":1.62},{"date":"1998-12-24","ratio":1.51},{"date":"1998-12-25","ratio":1.48},{"date":"1998-12-26","ratio":1.59},{"date":"1998-12-27","ratio":1.55},{"date":"1998-12-28","ratio":1.49},{"date":"1998-12-29","ratio":1.57},{"date":"1998-12-30","ratio":1.52},{"date":"1998-12-31","ratio":1.50},
{"date":"1999-01-01","ratio":1.58},{"date":"1999-01-02","ratio":1.54},{"date":"1999-01-03","ratio":1.50},{"date":"1999-01-04","ratio":1.47},{"date":"1999-01-05","ratio":1.60},{"date":"1999-01-06","ratio":1.56},{"date":"1999-01-07","ratio":1.52},{"date":"1999-01-08","ratio":1.49},{"date":"1999-01-09","ratio":1.57},{"date":"1999-01-10","ratio":1.53},
{"date":"1999-01-11","ratio":1.59},{"date":"1999-01-12","ratio":1.55},{"date":"1999-01-13","ratio":1.51},{"date":"1999-01-14","ratio":1.48},{"date":"1999-01-15","ratio":1.58},{"date":"1999-01-16","ratio":1.54},{"date":"1999-01-17","ratio":1.50},{"date":"1999-01-18","ratio":1.47},{"date":"1999-01-19","ratio":1.56},{"date":"1999-01-20","ratio":1.52}
]
},
"layer":[
{
"layer":[
{
"data":{"name":"monthly"},
"mark":{"type":"line","interpolate":"catmull-rom","color":"#b0b0b0","strokeWidth":1.1},
"encoding":{
"x":{"field":"month","type":"temporal",
"scale":{"type":"utc","domain":[{"year":1997,"month":1,"date":1,"utc":true},{"year":1999,"month":1,"date":20,"utc":true}],"nice":false},
"axis":{"values":[{"year":1997,"month":1,"date":1,"utc":true},{"year":1997,"month":4,"date":2,"utc":true},{"year":1997,"month":7,"date":2,"utc":true},{"year":1997,"month":10,"date":1,"utc":true},{"year":1997,"month":12,"date":31,"utc":true},{"year":1998,"month":4,"date":1,"utc":true},{"year":1998,"month":7,"date":1,"utc":true},{"year":1998,"month":9,"date":30,"utc":true},{"year":1998,"month":12,"date":30,"utc":true}],
"labelExpr":"[utcFormat(datum.value, '%b-'), utcFormat(datum.value, '%y')]",
"labelFontSize":44,"labelLineHeight":62,"labelPadding":46,"tickSize":12,"labelFlush":false,"labelOverlap":false,"labelBound":false,
"title":"Date","titleFontSize":44,"titleFontWeight":"bold","titleX":545,"titleY":258,"titleAlign":"center","titleBaseline":"alphabetic"}},
"y":{"field":"precip_mm","type":"quantitative","scale":{"domain":[0,320],"nice":false},
"axis":{"orient":"right","values":[0,40,80,120,160,200,240,280,320],"tickSize":12,"labelPadding":20,"labelFontSize":40,
"title":"Monthly Precipitation (mm)","titleFontSize":42,"titleFontWeight":"bold","titleAngle":-90,"titleX":154,"titleY":455,"titleAlign":"center","titleBaseline":"middle"}}
}
},
{
"data":{"name":"monthly"},
"mark":{"type":"point","shape":"square","filled":true,"fill":"#4f4f4f","stroke":"#151515","strokeWidth":1.5,"size":550,"opacity":1},
"encoding":{
"x":{"field":"month","type":"temporal"},
"y":{"field":"precip_mm","type":"quantitative"}
}
}
]
},
{
"layer":[
{
"data":{"name":"daily"},
"mark":{"type":"point","shape":"circle","filled":false,"stroke":"#161616","strokeWidth":2,"size":180,"opacity":1},
"encoding":{
"x":{"field":"date","type":"temporal"},
"y":{"field":"ratio","type":"quantitative","scale":{"domain":[0,2.4],"nice":false},
"axis":{"orient":"left","values":[0,0.4,0.8,1.2,1.6,2.0,2.4],"format":".1f","tickSize":11,"labelPadding":22,"labelFontSize":40,
"title":"VPDday / VPDdelT - Daily","titleFontSize":38,"titleFontWeight":"bold","titleAngle":-90,"titleX":-140,"titleY":422,"titleAlign":"center","titleBaseline":"middle"}}
}
},
{
"data":{"values":[{"panel":"b"}]},
"mark":{"type":"text","fontSize":42,"font":"Liberation Sans","color":"#2a2a2a","align":"center","baseline":"alphabetic"},
"encoding":{
"x":{"datum":{"year":1998,"month":12,"date":23,"utc":true},"type":"temporal"},
"y":{"datum":2.22,"type":"quantitative"},
"text":{"field":"panel"}
}
}
]
}
],
"resolve":{"scale":{"y":"independent"}}
}
